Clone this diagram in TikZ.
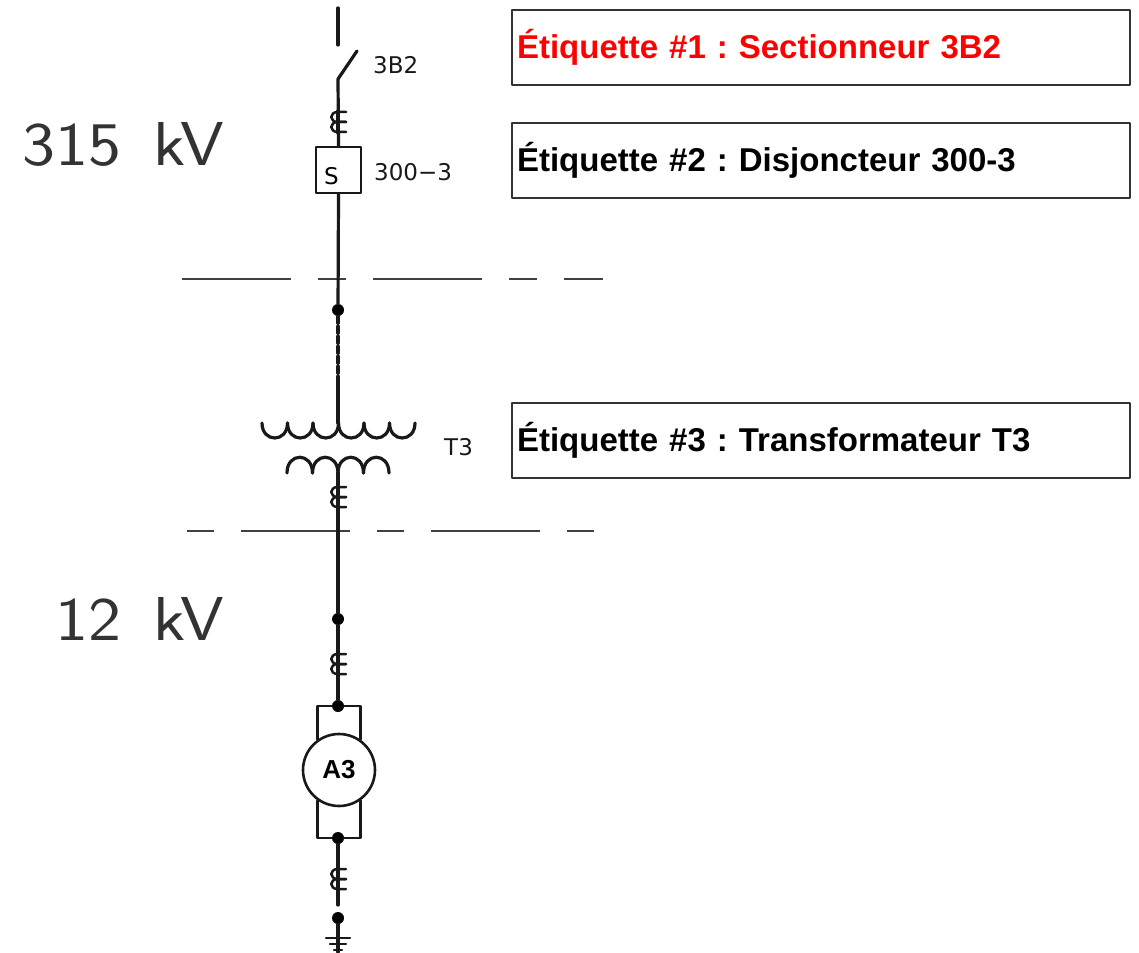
\documentclass[tikz,border=0pt]{standalone}
\usepackage{fontspec}
\newfontfamily\tagfont{Liberation Sans}
\newfontfamily\cadfont{DejaVu Sans}
\usepackage{tikz}
\usetikzlibrary{positioning}
\frenchspacing

\begin{document}
\begin{tikzpicture}[x=1pt, y=-1pt, line join=round, line cap=round,
    wire/.style={line width=3.2pt, black!90},
    thinwire/.style={line width=2.5pt, black!90},
    zoneline/.style={line width=2.6pt, black!75, line cap=butt},
    junction/.style={circle, fill=black, inner sep=0pt, minimum size=12pt},
    tagbox/.style={draw=black!80, line width=1.5pt, minimum width=618pt,
      minimum height=75pt, text width=608pt, inner xsep=5pt, align=left,
      font=\tagfont\bfseries\fontsize{33}{36}\selectfont},
    cadlabel/.style={font=\cadfont\fontsize{23}{26}\selectfont, text=black!90,
      inner sep=0pt, anchor=west},
    voltlabel/.style={font=\sffamily\fontsize{62}{66}\selectfont, text=black!80,
      inner sep=0pt, anchor=base east}]

  \useasboundingbox (0,0) rectangle (1139,952);

  % bus centre line
  \def\xb{338}

  % voltage zones
  \node[voltlabel] (hv) at (224,165) {\scalebox{1.13}[1]{315\hspace{28pt}kV}};
  \node[voltlabel] (lv) at (224,640) {\scalebox{1.13}[1]{12\hspace{28pt}kV}};
  \draw[zoneline, dash pattern=on 109pt off 27pt on 28pt off 27pt] (182,279) -- (603,279);
  \draw[zoneline, dash pattern=on 27pt off 27pt on 109pt off 27pt] (187,531) -- (596,531);

  % sectionneur 3B2
  \coordinate (feed) at (\xb,8);
  \coordinate (swtop) at (\xb,45);
  \coordinate (swpivot) at (\xb,79);
  \coordinate (swtip) at (357,51);
  \draw[wire] (feed) -- (swtop);
  \draw[wire] (swpivot) -- (swtip);
  \node[cadlabel] (swlbl) at (373,65) {3B2};

  % disjoncteur 300-3
  \node[draw=black!90, line width=2.4pt, minimum width=45pt, minimum height=46pt,
    inner sep=0pt] (brk) at (338.5,170) {};
  \node[font=\cadfont\fontsize{23}{25}\selectfont, inner sep=0pt, anchor=base] (brkS) at (331.5,185) {S};
  \node[cadlabel] (brklbl) at (374,172) {300−3};
  \draw[wire] (swpivot) -- (brk.north);

  % transformateur T3
  \coordinate (prim) at (\xb,423);
  \coordinate (sec) at (\xb,473);
  \foreach \k in {0,...,5}
    \draw[wire] ({262+25.5*\k},423) .. controls +(0,20) and +(0,20) .. ({287.5+25.5*\k},423);
  \foreach \k in {0,...,3}
    \draw[wire] ({287+25.5*\k},473) .. controls +(0,-21) and +(0,-21) .. ({312.5+25.5*\k},473);
  \node[cadlabel] (trlbl) at (444,447) {T3};

  % junctions
  \node[junction] (j1) at (\xb,310) {};
  \node[junction] (j2) at (\xb,619) {};
  \node[junction] (j3) at (\xb,706) {};
  \node[junction] (j4) at (\xb,838) {};
  \node[junction] (j5) at (\xb,918) {};
  \coordinate (dotsend) at (\xb,380);
  \coordinate (plugend) at (\xb,905);
  \coordinate (gnd) at (\xb,952);

  % alternateur A3
  \node[circle, draw=black!90, line width=2.6pt, minimum size=72pt, inner sep=0pt,
    font=\tagfont\bfseries\fontsize{26}{28}\selectfont] (gen) at (339,770) {A3};

  % wiring
  \draw[wire] (brk.south) -- (j1);
  \draw[wire, dash pattern=on 7pt off 3pt] (j1) -- (dotsend);
  \draw[wire] (dotsend) -- (prim);
  \draw[wire] (sec) -- (j2) -- (j3);
  \draw[thinwire] (gen.125) |- (j3) -| (gen.55);
  \draw[thinwire] (gen.235) |- (j4) -| (gen.305);
  \draw[wire] (j4) -- (plugend);
  \draw[wire] (j5) -- (gnd);

  % prises (plugs)
  \foreach \yc in {112,487,654,869}{
    \fill[white] (\xb-9,\yc-1) rectangle (\xb+8,\yc+21);
    \draw[wire] (\xb,\yc-1) -- (\xb,\yc+21);
    \foreach \dy in {0,10}
      \draw[thinwire] (\xb+8,\yc+\dy) -- (\xb,\yc+\dy)
        .. controls (\xb-9,\yc+\dy) and (\xb-9,\yc+\dy+10) .. (\xb,\yc+\dy+10) -- (\xb+8,\yc+\dy+10);
  }

  % mise a la terre
  \draw[thinwire] (\xb-12,938) -- (\xb+12,938);
  \draw[thinwire] (\xb-8,944) -- (\xb+8,944);
  \draw[thinwire] (\xb-4,950) -- (\xb+4,950);

  % etiquettes
  \node[tagbox, text=red] (tag1) at (821,47.5) {Étiquette \#1 : Sectionneur 3B2};
  \node[tagbox, text=black] (tag2) at (821,160.5) {Étiquette \#2 : Disjoncteur 300-3};
  \node[tagbox, text=black] (tag3) at (821,440.5) {Étiquette \#3 : Transformateur T3};

\end{tikzpicture}
\end{document}
